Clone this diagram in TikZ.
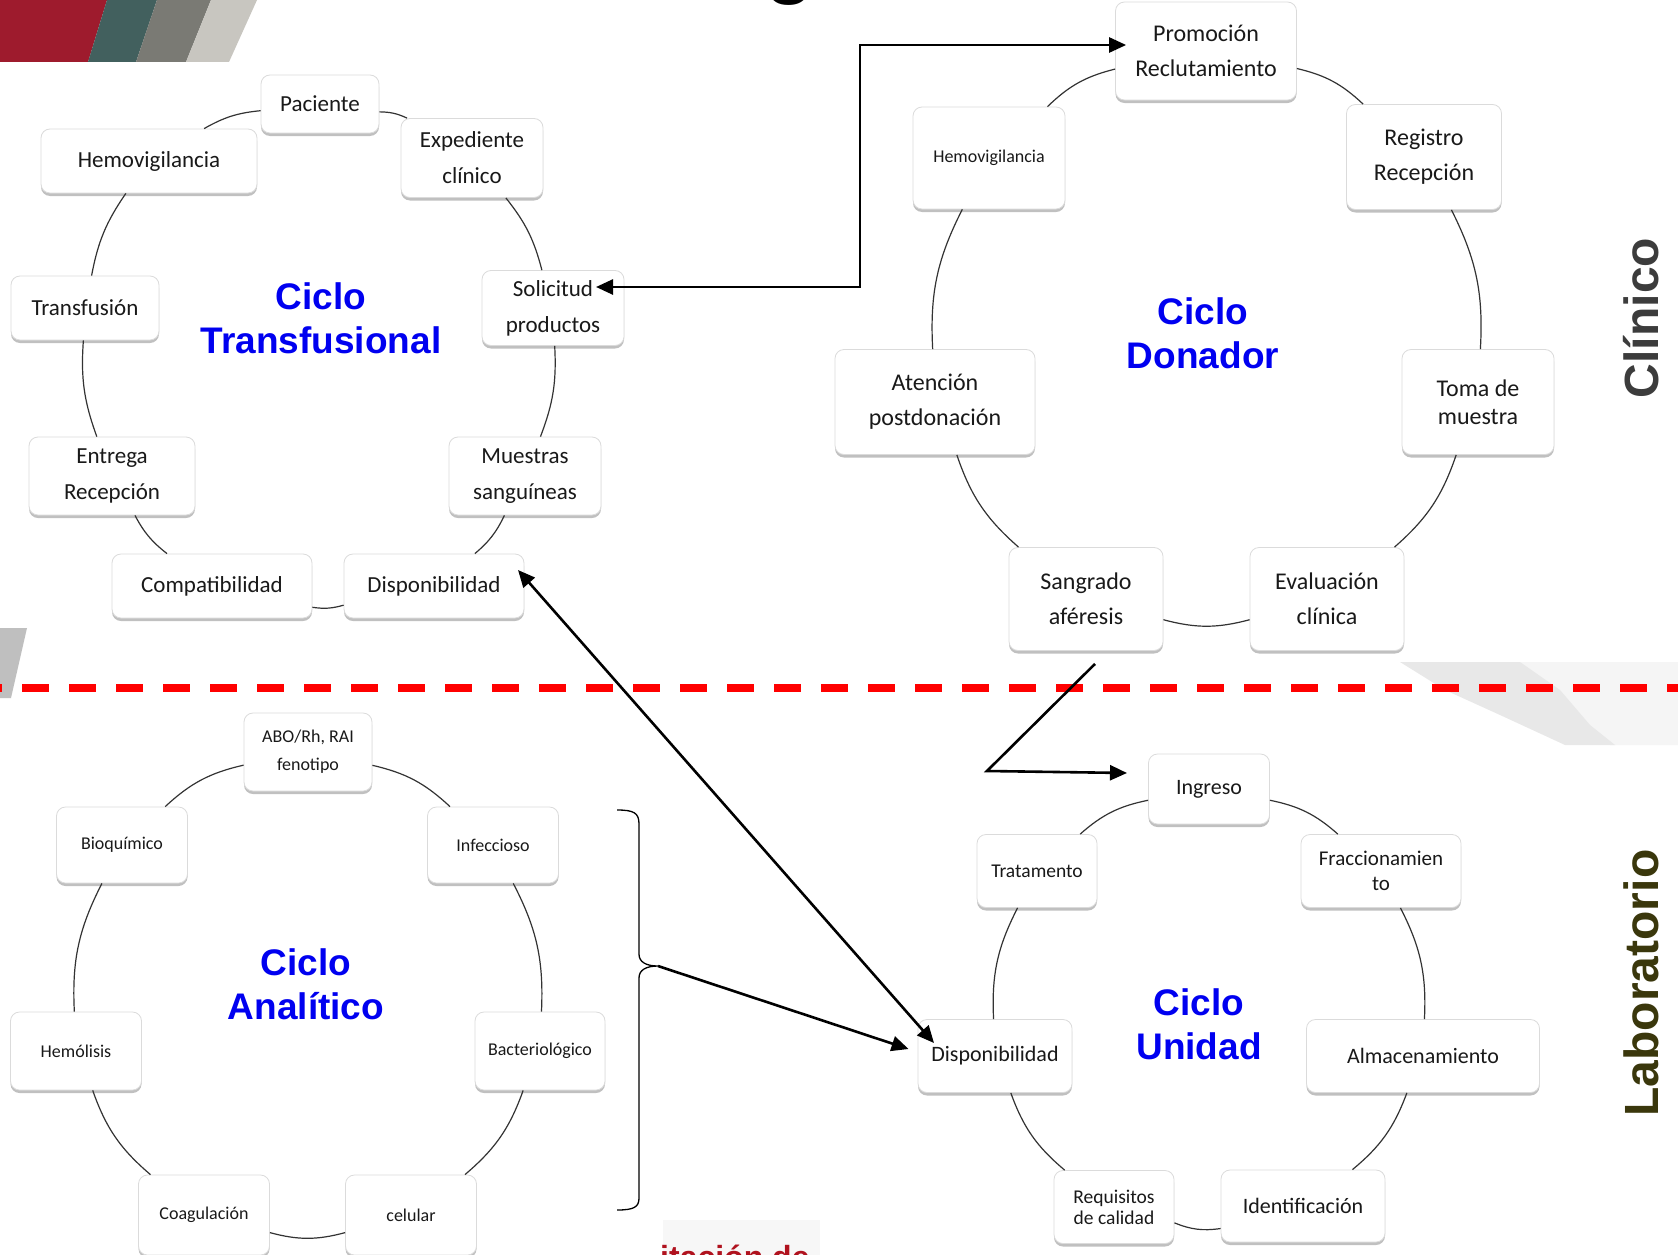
\documentclass[tikz,border=0pt]{standalone}
\usepackage{fontspec}
\setmainfont{Carlito}
\newfontfamily\arialf{Liberation Sans}
\usetikzlibrary{shadows,arrows.meta,calc}
\definecolor{tlred}{RGB}{158,27,45}
\definecolor{tlteal}{RGB}{66,96,94}
\definecolor{tlgray}{RGB}{122,122,116}
\definecolor{tllight}{RGB}{200,198,192}
\definecolor{cyblue}{RGB}{0,0,240}
\definecolor{clinc}{RGB}{60,60,60}
\definecolor{labc}{RGB}{58,55,12}
\definecolor{fragred}{RGB}{176,18,30}
\begin{document}
\begin{tikzpicture}[x=1pt,y=-1pt,
  box/.style={draw=black!14, line width=0.8pt, fill=white, rounded corners=9pt, align=center,
    inner sep=0pt, text=black!90,
    drop shadow={shadow xshift=0pt, shadow yshift=-3pt, opacity=0.35, fill=black!70}},
  fA/.style={font=\fontsize{23}{36}\selectfont},
  fB/.style={font=\fontsize{24}{35}\selectfont},
  fC/.style={font=\fontsize{18}{28}\selectfont},
  fD/.style={font=\fontsize{22}{26}\selectfont},
  cyc/.style={draw=black!80, line width=1.2pt},
  arr/.style={line width=2.6pt, -{Triangle[length=17pt,width=15pt]}},
  arrtwo/.style={line width=2.6pt, {Triangle[length=17pt,width=15pt]}-{Triangle[length=17pt,width=15pt]}},
  cytitle/.style={font=\arialf\bfseries\fontsize{37}{44}\selectfont, text=cyblue, align=center},
  side/.style={rotate=90, font=\arialf\bfseries\fontsize{48}{48}\selectfont}
]
\useasboundingbox (0,0) rectangle (1678,1255);
\fill[white] (0,0) rectangle (1678,1255);

% background fragments
\fill[tlred] (0,0) -- (107,0) -- (88,62) -- (0,62) -- cycle;
\fill[tlteal] (107,0) -- (157,0) -- (136,62) -- (88,62) -- cycle;
\fill[tlgray] (157,0) -- (211,0) -- (186,62) -- (136,62) -- cycle;
\fill[tllight] (211,0) -- (257,0) -- (229,62) -- (186,62) -- cycle;
\fill[black!25] (0,628) -- (27,628) -- (11,698) -- (0,698) -- cycle;
\fill[black!4] (1520,662) -- (1678,662) -- (1678,745) -- (1610,745) -- cycle;
\fill[black!9] (1400,662) -- (1520,662) -- (1560,690) -- (1590,725) -- (1615,745) -- (1565,745) -- (1500,715) -- (1445,690) -- cycle;
\node[anchor=base, inner sep=0pt, font=\arialf\bfseries\fontsize{80}{80}\selectfont] (tg) at (790,-11) {g};
\fill[black!3] (663,1220) rectangle (820,1255);
\node[anchor=base west, inner sep=0pt, font=\arialf\bfseries\fontsize{32}{32}\selectfont, text=fragred] (frag) at (660,1268) {itación de};

% dashed separator
\draw[red, line width=8pt, dash pattern=on 27pt off 20pt, dash phase=25pt] (0,688) -- (1678,688);

% Ciclo Transfusional
\node[box, fA, minimum width=118, minimum height=58] (pac) at (320,104) {Paciente};
\node[box, fA, minimum width=142, minimum height=79] (exp) at (472,158) {Expediente\\clínico};
\node[box, fA, minimum width=216, minimum height=64] (hemA) at (149,161) {Hemovigilancia};
\node[box, fA, minimum width=148, minimum height=64] (tra) at (85,308) {Transfusión};
\node[box, fA, minimum width=142, minimum height=75] (sol) at (553,308) {Solicitud\\productos};
\node[box, fA, minimum width=166, minimum height=78] (ent) at (112,476) {Entrega\\Recepción};
\node[box, fA, minimum width=152, minimum height=78] (mue) at (525,476) {Muestras\\sanguíneas};
\node[box, fA, minimum width=200, minimum height=64] (comp) at (212,586) {Compatibilidad};
\node[box, fA, minimum width=180, minimum height=64] (dispA) at (434,586) {Disponibilidad};
\node[cytitle] (tA) at (321,318) {Ciclo\\Transfusional};
\foreach \a/\b in {pac/exp, exp/sol, sol/mue, mue/dispA, dispA/comp, comp/ent, ent/tra, tra/hemA, hemA/pac}
  \draw[cyc] (\a) to[bend left=12] (\b);

% Ciclo Donador
\node[box, fB, minimum width=181, minimum height=98] (prom) at (1206,51) {Promoción\\Reclutamiento};
\node[box, fB, minimum width=155, minimum height=105] (reg) at (1424,157) {Registro\\Recepción};
\node[box, font=\fontsize{18}{22}\selectfont, minimum width=152, minimum height=102] (hemB) at (989,158) {Hemovigilancia};
\node[box, fB, minimum width=200, minimum height=105] (aten) at (935,402) {Atención\\postdonación};
\node[box, font=\fontsize{24}{28}\selectfont, minimum width=152, minimum height=105] (toma) at (1478,402) {Toma de\\muestra};
\node[box, fB, minimum width=154, minimum height=103] (sang) at (1086,599) {Sangrado\\aféresis};
\node[box, fB, minimum width=154, minimum height=103] (eval) at (1327,599) {Evaluación\\clínica};
\node[cytitle] (tB) at (1203,333) {Ciclo\\Donador};
\foreach \a/\b in {prom/reg, reg/toma, toma/eval, eval/sang, sang/aten, aten/hemB, hemB/prom}
  \draw[cyc] (\a) to[bend left=15] (\b);

% Ciclo Analitico
\node[box, fC, minimum width=128, minimum height=78] (abo) at (308,752) {ABO/Rh, RAI\\fenotipo};
\node[box, fC, minimum width=131, minimum height=76] (inf) at (493,845) {Infeccioso};
\node[box, fC, minimum width=131, minimum height=76] (bioq) at (122,845) {Bioquímico};
\node[box, fC, minimum width=131, minimum height=78] (hemol) at (76,1051) {Hemólisis};
\node[box, fC, minimum width=130, minimum height=78] (bac) at (540,1051) {Bacteriológico};
\node[box, fC, minimum width=131, minimum height=80] (coag) at (204,1215) {Coagulación};
\node[box, fC, minimum width=131, minimum height=80] (cel) at (411,1215) {celular};
\node[cytitle] (tC) at (306,984) {Ciclo\\Analítico};
\foreach \a/\b in {abo/inf, inf/bac, bac/cel, cel/coag, coag/hemol, hemol/bioq, bioq/abo}
  \draw[cyc] (\a) to[bend left=15] (\b);

% Ciclo Unidad
\node[box, fD, minimum width=121, minimum height=70] (ing) at (1209,789) {Ingreso};
\node[box, font=\fontsize{19.5}{24}\selectfont, minimum width=120, minimum height=73] (trat) at (1037,871) {Tratamento};
\node[box, font=\fontsize{21}{25}\selectfont, minimum width=160, minimum height=73] (frac) at (1381,871) {Fraccionamien\\to};
\node[box, fD, minimum width=154, minimum height=73] (dispB) at (995,1056) {Disponibilidad};
\node[box, fD, minimum width=233, minimum height=73] (alm) at (1423,1056) {Almacenamiento};
\node[box, font=\fontsize{19.5}{21}\selectfont, minimum width=120, minimum height=73] (req) at (1114,1207) {Requisitos\\de calidad};
\node[box, fD, minimum width=164, minimum height=72] (ident) at (1303,1206) {Identificación};
\node[cytitle] (tD) at (1199,1024) {Ciclo\\Unidad};
\foreach \a/\b in {ing/frac, frac/alm, alm/ident, ident/req, req/dispB, dispB/trat, trat/ing}
  \draw[cyc] (\a) to[bend left=15] (\b);

% side labels
\node[side, text=clinc] (lc) at (1641,318) {Clínico};
\node[side, text=labc] (ll) at (1641,983) {Laboratorio};

% brace
\coordinate (bt) at (658,966);
\draw[black, line width=1.3pt] (617,810) .. controls (634,810) and (639,813) .. (639,824) -- (639,954)
  .. controls (639,962) and (646,966) .. (bt) .. controls (646,966) and (639,970) .. (639,978)
  -- (639,1198) .. controls (639,1207) and (634,1210) .. (617,1210);

% arrows
\coordinate (c1) at (860,45);
\draw[arrtwo] ($(sol.center)+(43,-21)$) -| (c1) -- ($(prom.west)+(11,-6)$);
\draw[arrtwo] ($(dispA.center)+(84,-16)$) -- ($(dispB.center)+(-61,-13)$);
\coordinate (c2) at (987,771);
\draw[arr] ($(sang.south)+(9,13)$) -- (c2) -- ($(ing.center)+(-82,-16)$);
\draw[arr] (bt) -- ($(dispB.west)+(-9,-7)$);
\end{tikzpicture}
\end{document}
